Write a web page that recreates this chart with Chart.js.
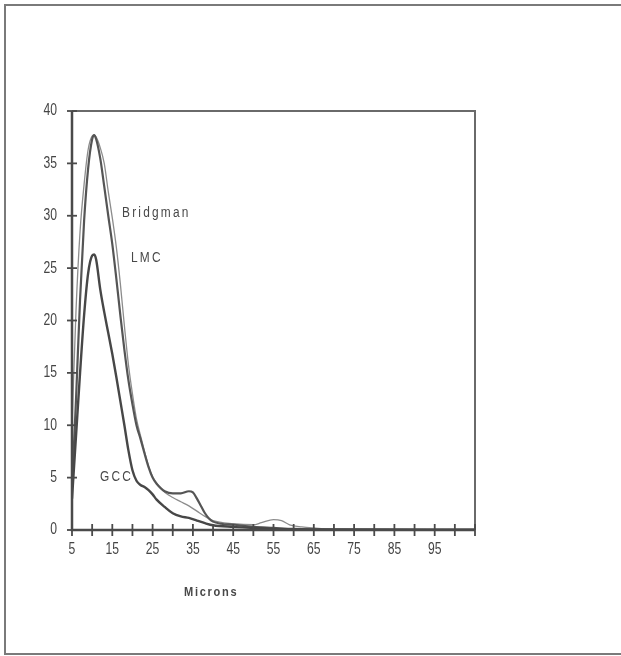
<!DOCTYPE html>
<html>
<head>
<meta charset="utf-8">
<script src="https://cdn.jsdelivr.net/npm/chart.js@4"></script>
<style>
html,body{margin:0;padding:0;background:#fff;}
canvas{display:block;}
</style>
</head>
<body>
<canvas id="c" width="621" height="656"></canvas>
<script>
// ---- data ----
const xTickLabels = ['5','15','25','35','45','55','65','75','85','95'];
const yTickLabels = ['0','5','10','15','20','25','30','35','40'];

const lmcX = [5,6,7,8,9,10,10.5,11,12,13,14,15,16,17,18,19,20,21,22,23,24,25,26,27,28,30,32,34,35,36,37,38,39,40,42,45,50,55,60,70,105];
const lmcY = [4,12.5,22,29.5,34.5,37.3,37.7,37.3,35.5,32.8,30,27.3,24,20.5,17.2,14.3,12,10,8.7,7.3,6,5,4.4,4,3.7,3.5,3.5,3.7,3.6,3,2.3,1.6,1.1,0.8,0.6,0.5,0.3,0.2,0.1,0.05,0.05];

const bridgmanX = [5,6,7,8,9,10,10.5,11,12,13,14,15,16,17,18,19,20,21,22,23,24,25,26,27,28,30,32,34,36,38,40,45,50,52,55,57,59,62,65,70,105];
const bridgmanY = [10,21,28.5,33,36.3,37.6,37.7,37.5,36.5,35,32.3,29.8,27,23.5,19.5,15.8,13,10.6,9,7.5,6.1,5.1,4.5,4,3.6,3.1,2.7,2.3,1.8,1.3,0.9,0.6,0.5,0.7,1.0,0.9,0.5,0.3,0.2,0.1,0.05];

const gccX = [5,6,7,8,9,10,10.5,11,12,13,14,15,16,17,18,19,20,21,22,23,24,25,26,28,30,32,34,36,38,40,45,50,55,60,105];
const gccY = [3,9,15,20.5,24.5,26.2,26.3,25.8,23,20.8,18.8,16.8,14.6,12.3,10,7.6,5.7,4.7,4.3,4.1,3.8,3.4,2.9,2.2,1.6,1.3,1.15,0.9,0.65,0.45,0.3,0.2,0.1,0.05,0];

const toPts = (xs, ys) => xs.map((x, i) => ({x: x, y: ys[i]}));

const NFONT = "'Liberation Sans',Arial,sans-serif";

function squeezeText(ctx, text, x, y, sx) {
  ctx.save();
  ctx.translate(x, y);
  ctx.scale(sx, 1);
  ctx.fillText(text, 0, 0);
  ctx.restore();
}

const decor = {
  id: 'decor',
  beforeDatasetsDraw(chart) {
    const ctx = chart.ctx, a = chart.chartArea;
    ctx.save();
    // outer frame
    ctx.strokeStyle = '#7a7a7a';
    ctx.lineWidth = 2;
    ctx.beginPath();
    ctx.moveTo(621, 5); ctx.lineTo(5, 5); ctx.lineTo(5, 654); ctx.lineTo(621, 654);
    ctx.stroke();
    // plot frame top/right
    ctx.strokeStyle = '#6a6a6a';
    ctx.lineWidth = 2;
    ctx.beginPath();
    ctx.moveTo(a.left, a.top); ctx.lineTo(a.right, a.top); ctx.lineTo(a.right, a.bottom);
    ctx.stroke();
    ctx.restore();
  },
  afterDatasetsDraw(chart) {
    const ctx = chart.ctx, a = chart.chartArea;
    const xs = chart.scales.x, ys = chart.scales.y;
    ctx.save();
    // axis lines
    ctx.strokeStyle = '#4a4a4a';
    ctx.lineWidth = 2.5;
    ctx.beginPath();
    ctx.moveTo(a.left, a.top); ctx.lineTo(a.left, a.bottom); ctx.lineTo(a.right, a.bottom);
    ctx.stroke();
    // tick marks crossing the axes
    ctx.lineWidth = 1.8;
    xs.ticks.forEach(t => {
      const px = xs.getPixelForValue(t.value);
      ctx.beginPath(); ctx.moveTo(px, a.bottom - 6); ctx.lineTo(px, a.bottom + 6); ctx.stroke();
    });
    ys.ticks.forEach(t => {
      const py = ys.getPixelForValue(t.value);
      ctx.beginPath(); ctx.moveTo(a.left - 5, py); ctx.lineTo(a.left + 5, py); ctx.stroke();
    });
    // tick labels (narrow look)
    ctx.fillStyle = '#454545';
    ctx.font = '16px ' + NFONT;
    ctx.textBaseline = 'middle';
    ctx.textAlign = 'right';
    ys.ticks.forEach(t => {
      const s = String(t.value);
      if (yTickLabels.includes(s)) squeezeText(ctx, s, 57, ys.getPixelForValue(t.value), 0.76);
    });
    ctx.textAlign = 'center';
    xs.ticks.forEach(t => {
      const s = String(t.value);
      if (xTickLabels.includes(s)) squeezeText(ctx, s, xs.getPixelForValue(t.value), 550, 0.76);
    });
    // series labels
    ctx.fillStyle = '#484848';
    ctx.textAlign = 'left';
    ctx.font = '14px ' + NFONT;
    if ('letterSpacing' in ctx) ctx.letterSpacing = '2.6px';
    squeezeText(ctx, 'Bridgman', 122, 213, 0.85);
    squeezeText(ctx, 'LMC', 131, 258, 0.85);
    squeezeText(ctx, 'GCC', 100, 477, 0.85);
    // axis title
    ctx.font = 'bold 13px ' + NFONT;
    if ('letterSpacing' in ctx) ctx.letterSpacing = '2px';
    squeezeText(ctx, 'Microns', 184, 592, 0.85);
    ctx.restore();
  }
};

new Chart(document.getElementById('c'), {
  type: 'line',
  data: {
    datasets: [
      {label: 'GCC', data: toPts(gccX, gccY), borderColor: '#474747', borderWidth: 2.4},
      {label: 'LMC', data: toPts(lmcX, lmcY), borderColor: '#555555', borderWidth: 2.2},
      {label: 'Bridgman', data: toPts(bridgmanX, bridgmanY), borderColor: '#8c8c8c', borderWidth: 1.3}
    ]
  },
  options: {
    responsive: false,
    devicePixelRatio: 1,
    animation: false,
    events: [],
    layout: {padding: {left: 0, top: 111, right: 146, bottom: 0}},
    elements: {
      point: {radius: 0},
      line: {cubicInterpolationMode: 'monotone', fill: false}
    },
    plugins: {legend: {display: false}, tooltip: {enabled: false}},
    scales: {
      x: {
        type: 'linear', min: 5, max: 105,
        afterFit(s) { s.height = 126; },
        grid: {display: false},
        border: {display: false},
        ticks: {stepSize: 5, autoSkip: false, maxRotation: 0, display: false}
      },
      y: {
        type: 'linear', min: 0, max: 40,
        afterFit(s) { s.width = 72; },
        grid: {display: false},
        border: {display: false},
        ticks: {stepSize: 5, display: false}
      }
    }
  },
  plugins: [decor]
});
</script>
</body>
</html>
